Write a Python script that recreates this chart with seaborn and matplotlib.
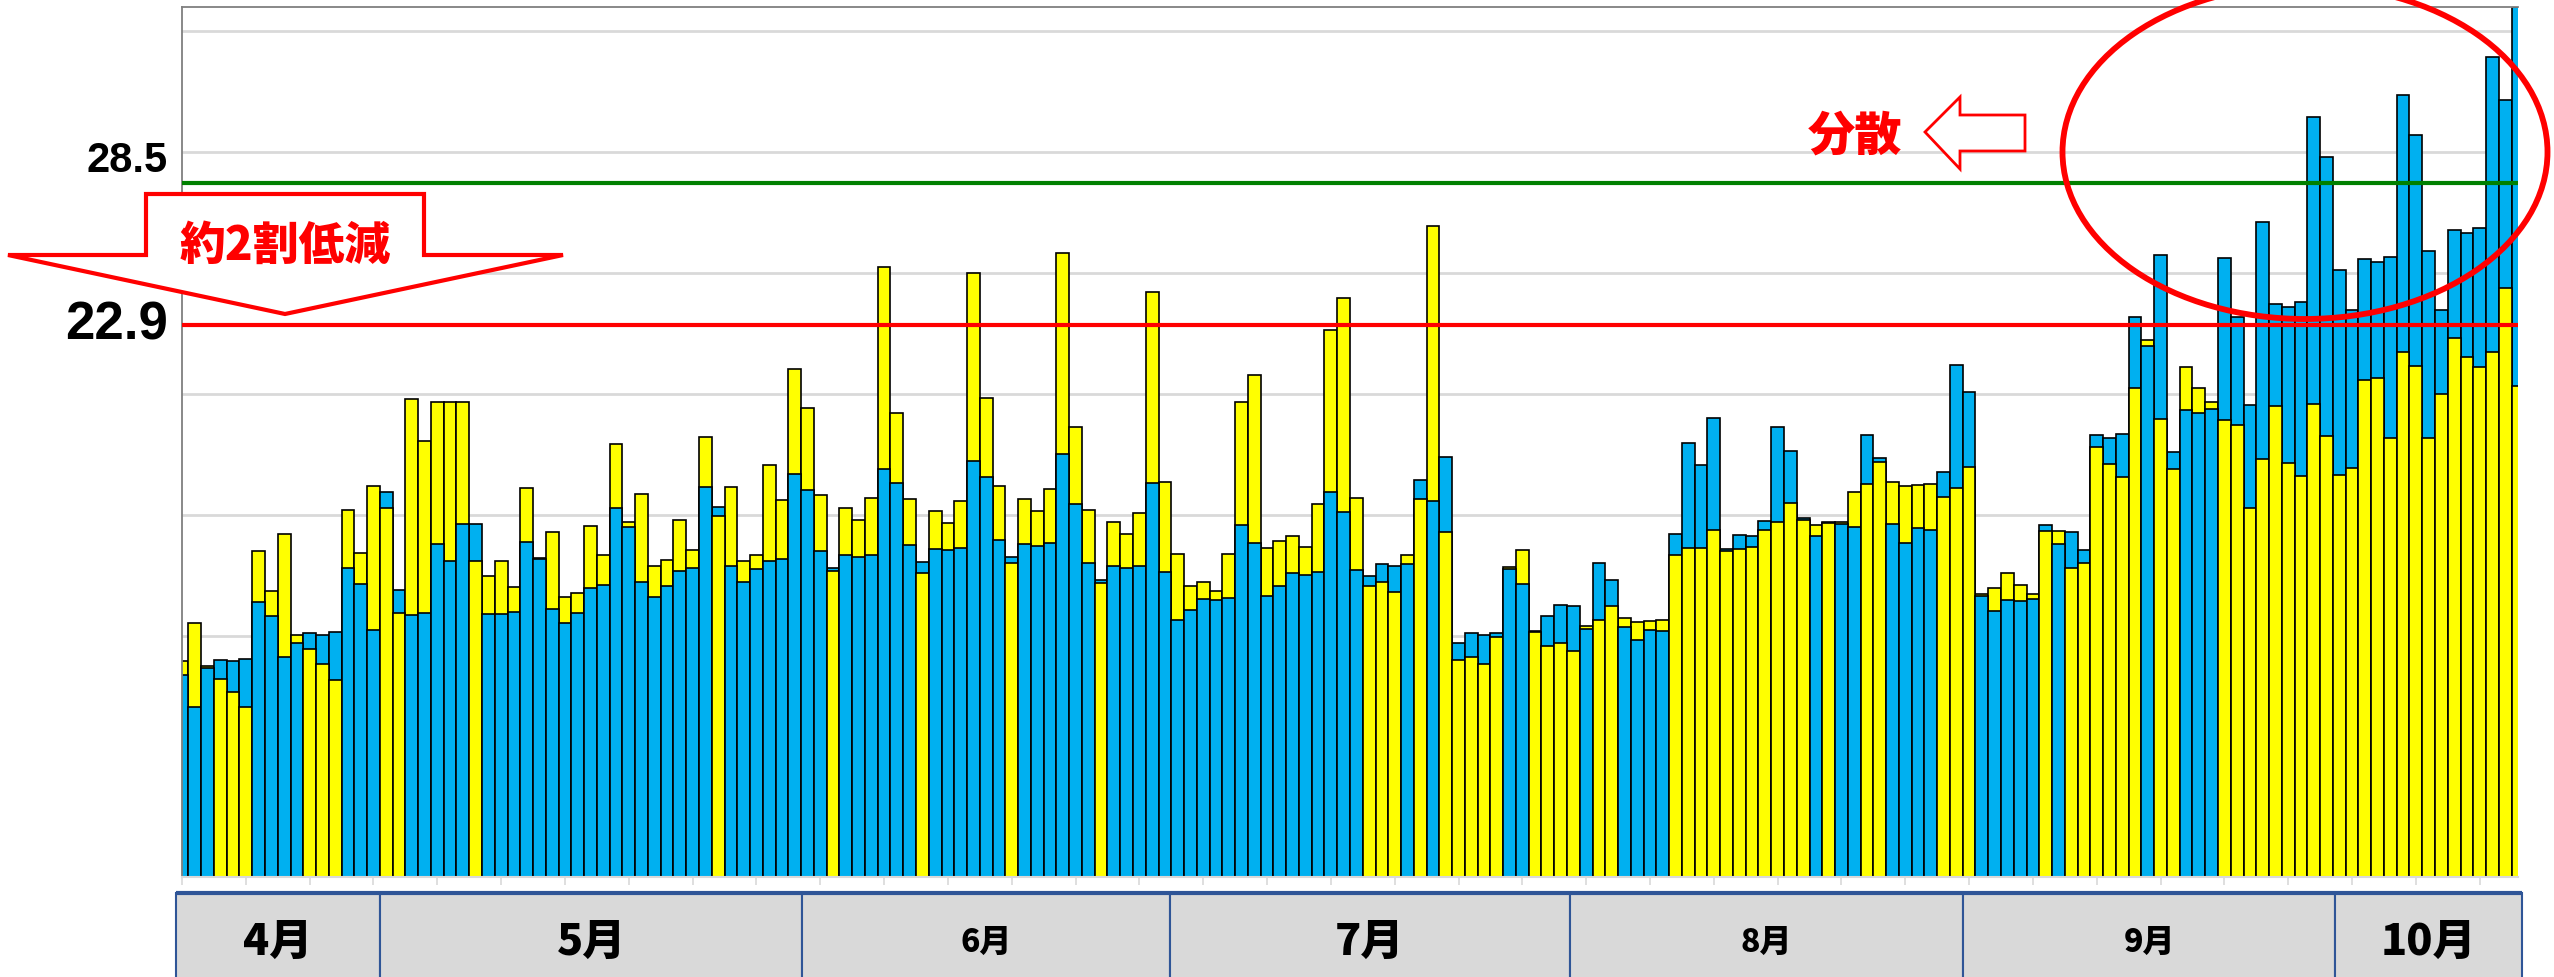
import matplotlib
matplotlib.use("Agg")
import matplotlib.pyplot as plt
import matplotlib.patches as mpatches
from matplotlib.transforms import blended_transform_factory
import pandas as pd
import seaborn as sns

plt.rcParams['font.family'] = ['Noto Sans CJK JP', 'DejaVu Sans']

# ---- data (one bar per day, two stacked parts) ----
# colour of the lower part of each bar: B = blue, Y = yellow (upper part is the other one)
bottom_code = list(
    "BBBYYYBBBBYYYBBBYYBB"
    "BBBYBBBBBBBBBBBBBBBB"
    "BBYBBBBBBBBYBBBBBBYB"
    "BBBBBYBBBBBBYBBBBBBB"
    "BBBBBBBBBBBBBYYYBYBY"
    "YYYYBBYYYYBYYBBBBYYY"
    "YYYYYYYYBYBBYYBBBBYY"
    "YBBBBBYBYYYYYYBYYBBB"
    "YYYYYYYYYYYYYYYYYYYYYYYY"
)

bottom_val = [
    8.37, 7.03, 8.65, 8.19, 7.66, 7.03, 11.38, 10.81, 9.10, 9.70,
    9.45, 8.84, 8.15, 12.80, 12.12, 10.22, 15.27, 10.95, 10.84, 10.92,
    13.81, 13.08, 14.61, 13.08, 10.90, 10.90, 10.97, 13.86, 13.16, 11.09,
    10.51, 10.92, 11.99, 12.09, 15.28, 14.50, 12.20, 11.58, 12.06, 12.68,
    12.78, 16.15, 14.96, 12.89, 12.23, 12.75, 13.09, 13.17, 16.67, 16.01,
    13.48, 12.68, 13.32, 13.24, 13.35, 16.88, 16.33, 13.74, 12.59, 13.60,
    13.55, 13.63, 17.23, 16.58, 13.97, 13.00, 13.79, 13.72, 13.85, 17.52,
    15.46, 13.01, 12.18, 12.87, 12.78, 12.89, 16.31, 12.64, 10.66, 11.06,
    11.52, 11.47, 11.56, 14.59, 13.83, 11.65, 12.07, 12.59, 12.52, 12.62,
    15.96, 15.12, 12.73, 12.04, 12.20, 11.79, 12.96, 15.66, 15.55, 14.29,
    8.99, 9.11, 8.83, 9.96, 12.77, 12.13, 10.14, 9.56, 9.68, 9.38,
    10.27, 10.66, 11.22, 10.35, 9.82, 10.23, 10.20, 13.33, 13.63, 13.63,
    14.38, 13.51, 13.58, 13.65, 14.38, 14.72, 15.50, 14.79, 14.11, 14.66,
    14.61, 14.49, 16.29, 17.18, 14.61, 13.85, 14.45, 14.36, 15.73, 16.12,
    16.99, 11.63, 11.03, 11.49, 11.44, 11.51, 14.33, 13.78, 12.78, 13.01,
    17.80, 17.09, 16.56, 20.25, 21.99, 18.97, 16.90, 19.32, 19.20, 19.39,
    18.92, 18.73, 15.28, 17.32, 19.51, 17.14, 16.62, 19.60, 18.24, 16.64,
    16.92, 20.59, 20.66, 18.17, 21.74, 21.17, 18.19, 19.98, 22.30, 21.53,
    21.13, 21.74, 24.37, 20.31,
]

total_val = [
    8.97, 10.51, 8.73, 8.99, 8.97, 9.02, 13.48, 11.85, 14.21, 10.04,
    10.11, 10.04, 10.14, 15.21, 13.41, 16.19, 15.92, 11.88, 19.77, 18.03,
    19.67, 19.67, 19.67, 14.61, 12.46, 13.10, 12.00, 16.11, 13.21, 14.28,
    11.59, 11.77, 14.54, 13.32, 17.94, 14.70, 15.87, 12.87, 13.12, 14.79,
    13.55, 18.23, 15.32, 16.13, 13.09, 13.33, 17.04, 15.62, 21.01, 19.40,
    15.82, 12.80, 15.28, 14.80, 15.71, 25.23, 19.22, 15.67, 13.05, 15.14,
    14.66, 15.57, 25.00, 19.84, 16.19, 13.24, 15.66, 15.16, 16.06, 25.82,
    18.63, 15.20, 12.32, 14.68, 14.22, 15.07, 24.22, 16.35, 13.37, 12.04,
    12.22, 11.83, 13.37, 19.65, 20.76, 13.63, 13.92, 14.10, 13.65, 15.43,
    22.66, 23.95, 15.71, 12.45, 12.96, 12.87, 13.35, 16.42, 26.95, 17.38,
    9.68, 10.09, 10.04, 10.11, 12.82, 13.56, 10.20, 10.82, 11.28, 11.21,
    10.39, 13.00, 12.29, 10.71, 10.55, 10.60, 10.64, 14.20, 17.98, 17.04,
    19.02, 13.60, 14.17, 14.10, 14.75, 18.62, 17.64, 14.86, 14.59, 14.70,
    14.72, 15.94, 18.30, 17.34, 16.35, 16.17, 16.24, 16.29, 16.77, 21.19,
    20.07, 11.72, 11.97, 12.61, 12.09, 11.72, 14.56, 14.33, 14.27, 13.55,
    18.30, 18.19, 18.33, 23.17, 22.23, 25.73, 17.58, 21.10, 20.26, 19.65,
    25.61, 23.19, 19.53, 27.11, 23.71, 23.59, 23.78, 31.43, 29.81, 25.12,
    23.45, 25.59, 25.47, 25.66, 32.37, 30.70, 25.89, 23.45, 26.78, 26.67,
    26.85, 33.92, 32.14, 36.00,
]

# month strip under the bars (edges in bar-index units)
month_labels = ["4月", "5月", "6月", "7月", "8月", "9月", "10月"]
month_edges = [-0.47, 15.5, 48.6, 77.4, 108.7, 139.5, 168.7, 183.3]
month_big = [True, True, False, True, False, False, True]

green_level, green_text = 28.7, "28.5"
red_level, red_text = 22.85, "22.9"

BLUE = "#00B0F0"
YELLOW = "#FFFF00"

W, H = 2554, 978


def px(x, y):
    # pixel position (from top-left) -> figure fraction
    return (x / W, 1 - y / H)


days = [f"{i:03d}" for i in range(len(total_val))]
df = pd.DataFrame({"day": days, "bottom": bottom_val, "total": total_val, "code": bottom_code})
df["bottom_colour"] = df["code"].map({"B": BLUE, "Y": YELLOW})
df["top_colour"] = df["code"].map({"B": YELLOW, "Y": BLUE})

fig = plt.figure(figsize=(W / 100, H / 100), dpi=100)
ax = fig.add_axes([182 / W, 1 - 878.4 / H, 2336 / W, 870.4 / H])

# upper part: full bar in the upper colour, then lower part drawn over it
sns.barplot(data=df, x="day", y="total", hue="day", order=days, hue_order=days,
            palette=dict(zip(days, df["top_colour"])), saturation=1, width=1,
            edgecolor="black", linewidth=1.2, legend=False, errorbar=None, ax=ax)
sns.barplot(data=df, x="day", y="bottom", hue="day", order=days, hue_order=days,
            palette=dict(zip(days, df["bottom_colour"])), saturation=1, width=1,
            edgecolor="black", linewidth=1.2, legend=False, errorbar=None, ax=ax)

ax.set(xlabel="", ylabel="")
ax.set_xlim(0, len(days) - 1)
ax.set_ylim(0, 36)
ax.set_yticks(range(5, 36, 5))
ax.yaxis.grid(True, color="#d9d9d9", linewidth=2)
ax.set_axisbelow(True)
ax.set_xticks(range(0, len(days), 5))
ax.set_xticklabels([])
ax.tick_params(axis="x", length=6, width=1.2, color="#d9d9d9")
ax.tick_params(axis="y", left=False, labelleft=False)
for side in ["left", "top"]:
    ax.spines[side].set_color("#7f7f7f")
    ax.spines[side].set_linewidth(1.3)
ax.spines["right"].set_visible(False)
ax.spines["bottom"].set_color("#d9d9d9")
ax.spines["bottom"].set_linewidth(1.5)

# reference lines
ax.axhline(green_level, color="#008000", linewidth=3, zorder=5)
ax.axhline(red_level, color="#ff0000", linewidth=3, zorder=5)
fig.text(*px(168, 161), green_text, ha="right", va="center", fontsize=30,
         fontweight="bold", family=["Liberation Sans", "DejaVu Sans"])
fig.text(*px(168, 325), red_text, ha="right", va="center", fontsize=38,
         fontweight="bold", family=["Liberation Sans", "DejaVu Sans"])

# big down arrow with text
down_arrow = [(146, 195), (424, 195), (424, 256), (563, 256), (285, 315), (8, 256), (146, 256)]
fig.add_artist(mpatches.Polygon([px(*p) for p in down_arrow], closed=True, facecolor="white",
                                edgecolor="#ff0000", linewidth=3, transform=fig.transFigure, zorder=5))
fig.text(*px(285, 246), "約2割低減", ha="center", va="center", fontsize=33,
         fontweight="heavy", color="#ff0000", zorder=6)

# "分散" with hollow left arrow and ellipse
left_arrow = [(1925, 133), (1960, 98), (1960, 116), (2025, 116), (2025, 152), (1960, 152), (1960, 170)]
fig.add_artist(mpatches.Polygon([px(*p) for p in left_arrow], closed=True, facecolor="white",
                                edgecolor="#ff0000", linewidth=2, transform=fig.transFigure, zorder=5))
fig.text(*px(1855, 136), "分散", ha="center", va="center", fontsize=34,
         fontweight="heavy", color="#ff0000", zorder=6)
fig.add_artist(mpatches.Ellipse(px(2305, 153), 485 / W, 334 / H, fill=False,
                                edgecolor="#ff0000", linewidth=4.2, transform=fig.transFigure, zorder=5))

# month strip
strip = blended_transform_factory(ax.transData, fig.transFigure)
box_top = 1 - 894 / H
for i, label in enumerate(month_labels):
    x0, x1 = month_edges[i], month_edges[i + 1]
    ax.add_patch(mpatches.Rectangle((x0, -0.05), x1 - x0, box_top + 0.05, transform=strip,
                                    facecolor="#d9d9d9", edgecolor="#2f5597", linewidth=1.5,
                                    clip_on=False))
    ax.text((x0 + x1) / 2, 1 - 942 / H, label, transform=strip, ha="center", va="center",
            fontsize=31 if month_big[i] else 23, fontweight="heavy", clip_on=False)
ax.plot([month_edges[0], month_edges[-1]], [box_top, box_top], transform=strip,
        color="#2f5597", linewidth=3, clip_on=False, solid_capstyle="butt")

fig.savefig("out.png", dpi=100)
